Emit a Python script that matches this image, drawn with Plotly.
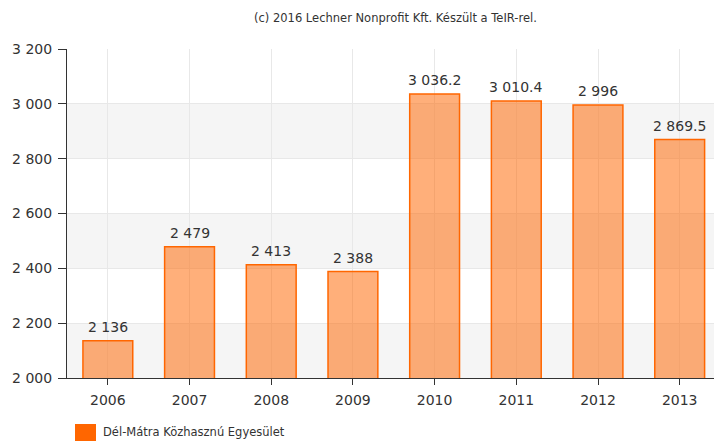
import plotly.graph_objects as go

years = ["2006", "2007", "2008", "2009", "2010", "2011", "2012", "2013"]
values = [2136, 2479, 2413, 2388, 3036.2, 3010.4, 2996, 2869.5]
series_name = "Dél-Mátra Közhasznú Egyesület"
title_text = "(c) 2016 Lechner Nonprofit Kft. Készült a TeIR-rel."
band_ranges = [(2000, 2200), (2400, 2600), (2800, 3000)]

FONT = "DejaVu Sans"
W, H = 714, 441
ML, MR, MT, MB = 67, 0, 49, 63
PW, PH = W - ML - MR, H - MT - MB


def px_x(px):
    return (px - ML) / PW


def px_y(py):
    return (H - MB - py) / PH


def fmt(v):
    return f"{v:,}".replace(",", " ")


fig = go.Figure()
fig.add_trace(go.Bar(
    x=years, y=values,
    width=0.61,
    marker=dict(color="rgba(255,102,0,0.52)", line=dict(color="#FF6600", width=1.5)),
    showlegend=False, hoverinfo="x+y",
))

shapes = []
for lo, hi in band_ranges:
    shapes.append(dict(type="rect", xref="paper", yref="y", x0=0, x1=1, y0=lo, y1=hi,
                       fillcolor="#F5F5F5", line=dict(width=0), layer="below"))
# legend swatch
shapes.append(dict(type="rect", xref="paper", yref="paper", x0=px_x(75), x1=px_x(96),
                   y0=px_y(442), y1=px_y(424), fillcolor="#FF6600", line=dict(width=0)))

annotations = [
    dict(text=title_text, xref="paper", yref="paper", x=px_x(395), y=px_y(18.5),
         xanchor="center", yanchor="middle", showarrow=False,
         font=dict(family=FONT, size=11.5, color="#333333")),
    dict(text=series_name, xref="paper", yref="paper", x=px_x(101), y=px_y(432),
         xanchor="left", yanchor="middle", showarrow=False,
         font=dict(family=FONT, size=11.5, color="#333333")),
]
for i, v in enumerate(values):
    annotations.append(dict(text=fmt(v), x=i, y=v, xref="x", yref="y",
                            xanchor="center", yanchor="bottom", yshift=4, showarrow=False,
                            font=dict(family=FONT, size=14, color="#333333")))

fig.update_layout(
    width=W, height=H,
    margin=dict(l=ML, r=MR, t=MT, b=MB),
    paper_bgcolor="white", plot_bgcolor="white",
    separators=". ",
    shapes=shapes,
    annotations=annotations,
    showlegend=False,
    font=dict(family=FONT, color="#333333"),
    xaxis=dict(type="category", range=[-0.5, 7.42], showgrid=True, gridcolor="#E8E8E8",
               gridwidth=1, showline=True, linecolor="#333333", linewidth=1,
               ticks="outside", ticklen=6, tickcolor="#333333", ticklabelstandoff=3,
               tickfont=dict(family=FONT, size=14, color="#333333"), fixedrange=True),
    yaxis=dict(range=[2000, 3200], dtick=200, tick0=2000, showgrid=True, gridcolor="#E8E8E8",
               gridwidth=1, showline=True, linecolor="#333333", linewidth=1,
               ticks="outside", ticklen=8, tickcolor="#333333", separatethousands=True,
               ticklabelstandoff=3,
               tickfont=dict(family=FONT, size=14, color="#333333"), zeroline=False,
               fixedrange=True),
)

fig.write_html("out.html", config={"displayModeBar": False},
               post_script="document.body.style.margin='0';")
